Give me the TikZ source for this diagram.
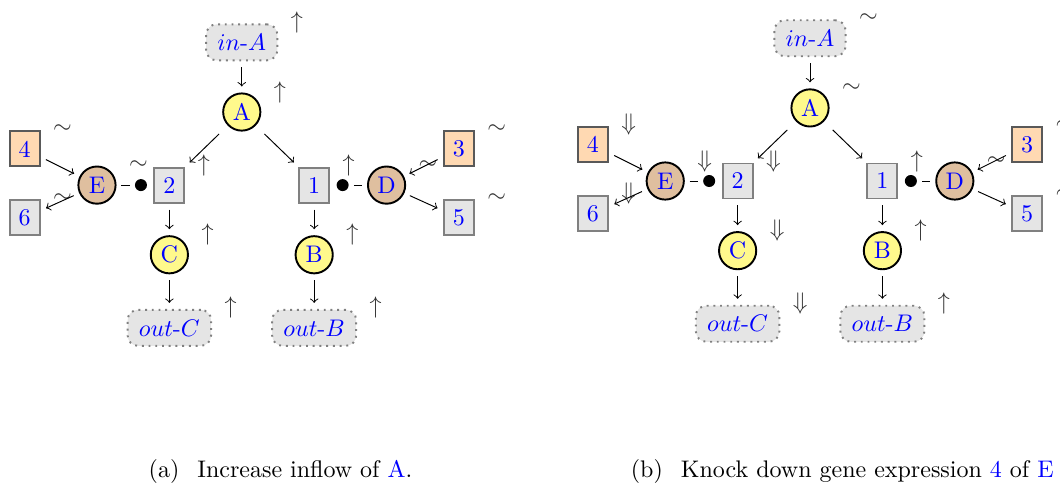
\documentclass[tikz,border=0pt]{standalone}
\usepackage{amsmath}
\usepackage{amssymb,amsfonts}
\usepackage{tikz}
\usepackage{color}
\usetikzlibrary{positioning}
\tikzset{species/.style={circle,draw,thick,fill=yellow!45,text=blue,minimum size=15.5pt,inner sep=1pt},
enzyme/.style={species,fill=brown!50},
gene/.style={draw=black!65,thick,fill=orange!30,text=blue,minimum width=12.5pt,minimum height=14.6pt,inner sep=1pt},
protein/.style={gene,draw=gray,fill=gray!20},
port/.style={draw=gray,thick,dotted,rounded corners=1ex,fill=gray!20,text=blue,inner xsep=4.7pt,minimum height=15pt},
bind/.style={circle,fill=black,inner sep=0pt,minimum size=5pt},
flow/.style={->,shorten <=2.5pt,shorten >=2.5pt},
link/.style={shorten <=2pt,shorten >=2pt},
effect/.style={text=black!80,xshift=1.7pt,yshift=8.3pt},
subcap/.style={anchor=base west,inner sep=0pt}}

\begin{document}
\begin{tikzpicture}
\useasboundingbox (0,0) rectangle (15.52,-7.09);

% (a) increase inflow
\node (ainA) at (3.54,-0.62) [port,label={[effect]east:$\uparrow$}] {$in$-$A$};
\node (aA) at (3.54,-1.64) [species,label={[effect]east:$\uparrow$}] {A};
\node (a4) at (0.36,-2.18) [gene,label={[effect]east:$\sim$}] {4};
\node (aE) at (1.42,-2.71) [enzyme,label={[effect]east:$\sim$}] {E};
\node (a6) at (0.36,-3.19) [protein,label={[effect]east:$\sim$}] {6};
\node (a2) at (2.48,-2.71) [protein,label={[effect]east:$\uparrow$}] {2};
\node (abE) [bind,left=2.5pt of a2] {};
\node (a1) at (4.60,-2.71) [protein,label={[effect]east:$\uparrow$}] {1};
\node (abD) [bind,right=2.5pt of a1] {};
\node (aD) at (5.66,-2.71) [enzyme,label={[effect]east:$\sim$}] {D};
\node (a3) at (6.72,-2.18) [gene,label={[effect]east:$\sim$}] {3};
\node (a5) at (6.72,-3.19) [protein,label={[effect]east:$\sim$}] {5};
\node (aC) at (2.48,-3.73) [species,label={[effect]east:$\uparrow$}] {C};
\node (aB) at (4.60,-3.73) [species,label={[effect]east:$\uparrow$}] {B};
\node (aoutC) at (2.48,-4.80) [port,label={[effect]east:$\uparrow$}] {$out$-$C$};
\node (aoutB) at (4.60,-4.80) [port,label={[effect]east:$\uparrow$}] {$out$-$B$};

\draw [flow] (ainA) -- (aA);
\draw [flow,shorten <=5pt] (aA) -- (a2.north east);
\draw [flow,shorten <=5pt] (aA) -- (a1.north west);
\draw [flow] (a2) -- (aC);
\draw [flow] (aC) -- (aoutC);
\draw [flow] (a1) -- (aB);
\draw [flow] (aB) -- (aoutB);
\draw [flow] (a4) -- (aE);
\draw [flow] (aE) -- (a6);
\draw [flow] (a3) -- (aD);
\draw [flow] (aD) -- (a5);
\draw [link] (aE) -- (abE);
\draw [link] (abD) -- (aD);

\node (capa) at (2.17,-6.99) [subcap] {(a)\hspace{7.5pt}Increase inflow of \textcolor{blue}{A}.};

% (b) knock down 4
\begin{scope}[xshift=8.32cm,yshift=0.06cm]
\node (binA) at (3.54,-0.62) [port,label={[effect]east:$\sim$}] {$in$-$A$};
\node (bA) at (3.54,-1.64) [species,label={[effect]east:$\sim$}] {A};
\node (b4) at (0.36,-2.18) [gene,label={[effect]east:$\Downarrow$}] {4};
\node (bE) at (1.42,-2.71) [enzyme,label={[effect]east:$\Downarrow$}] {E};
\node (b6) at (0.36,-3.19) [protein,label={[effect]east:$\Downarrow$}] {6};
\node (b2) at (2.48,-2.71) [protein,label={[effect]east:$\Downarrow$}] {2};
\node (bbE) [bind,left=2.5pt of b2] {};
\node (b1) at (4.60,-2.71) [protein,label={[effect]east:$\uparrow$}] {1};
\node (bbD) [bind,right=2.5pt of b1] {};
\node (bD) at (5.66,-2.71) [enzyme,label={[effect]east:$\sim$}] {D};
\node (b3) at (6.72,-2.18) [gene,label={[effect]east:$\sim$}] {3};
\node (b5) at (6.72,-3.19) [protein,label={[effect]east:$\sim$}] {5};
\node (bC) at (2.48,-3.73) [species,label={[effect]east:$\Downarrow$}] {C};
\node (bB) at (4.60,-3.73) [species,label={[effect]east:$\uparrow$}] {B};
\node (boutC) at (2.48,-4.80) [port,label={[effect]east:$\Downarrow$}] {$out$-$C$};
\node (boutB) at (4.60,-4.80) [port,label={[effect]east:$\uparrow$}] {$out$-$B$};

\draw [flow] (binA) -- (bA);
\draw [flow,shorten <=5pt] (bA) -- (b2.north east);
\draw [flow,shorten <=5pt] (bA) -- (b1.north west);
\draw [flow] (b2) -- (bC);
\draw [flow] (bC) -- (boutC);
\draw [flow] (b1) -- (bB);
\draw [flow] (bB) -- (boutB);
\draw [flow] (b4) -- (bE);
\draw [flow] (bE) -- (b6);
\draw [flow] (b3) -- (bD);
\draw [flow] (bD) -- (b5);
\draw [link] (bE) -- (bbE);
\draw [link] (bbD) -- (bD);
\end{scope}

\node (capb) at (9.23,-6.99) [subcap] {(b)\hspace{7.5pt}Knock down gene expression \textcolor{blue}{4} of \textcolor{blue}{E}};
\end{tikzpicture}
\end{document}
